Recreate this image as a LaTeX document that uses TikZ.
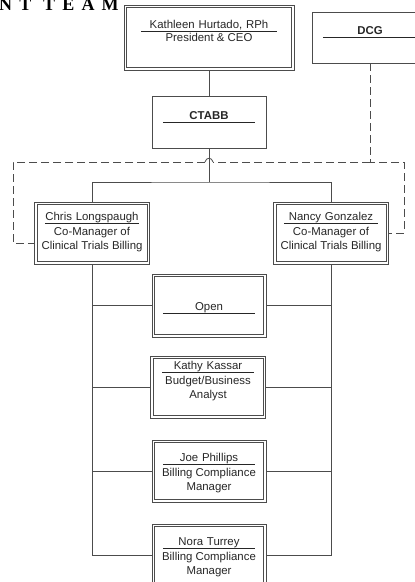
\documentclass[tikz,border=0pt]{standalone}
\usepackage{fontspec}
\setmainfont{Liberation Sans}
\newfontfamily\headfont[LetterSpace=40]{Liberation Serif}
\usetikzlibrary{positioning}
\definecolor{linegray}{gray}{0.3}
\definecolor{textgray}{gray}{0.15}

\tikzset{
  dbox/.style={draw=linegray, line width=.65pt, inner sep=0pt},
  sbox/.style={draw=linegray, line width=.7pt, inner sep=0pt},
  namebox/.style={anchor=south, inner sep=0pt, text depth=2.2pt, align=center,
    font=\fontsize{11.4}{13.5}\selectfont, text=textgray},
  titlebox/.style={inner xsep=0pt, inner ysep=4.5pt, align=center,
    font=\fontsize{11.4}{13.5}\selectfont, text=textgray},
  underline/.style={draw=textgray, line width=.6pt},
  orgline/.style={draw=linegray, line width=.7pt},
  dotline/.style={draw=linegray, line width=.8pt, dash pattern=on 8pt off 4pt}
}

\begin{document}
\begin{tikzpicture}[x=1pt, y=-1pt]
  \useasboundingbox (0,0) rectangle (415,582);
  \node [anchor=base west, inner sep=0pt,
    font=\headfont\bfseries\fontsize{18}{18}\selectfont] (head) at (-1,10.5) {NT TEAM};

  % president
  \node [dbox, minimum width=170pt, minimum height=65pt] (boss) at (209,37.5) {};
  \node [namebox, text width=136pt] (bossname) at (209,31) {Kathleen Hurtado, RPh};
  \draw [underline] (bossname.south west) -- (bossname.south east);
  \node [titlebox, inner ysep=2.5pt, below=0pt of bossname] (bosstitle) {President \& CEO};

  % dcg (runs off the right edge)
  \node [sbox, minimum width=128pt, minimum height=51pt] (dcg) at (376,37.5) {};
  \node [namebox, text width=94pt, font=\fontsize{11.4}{13.5}\selectfont\bfseries] (dcgname) at (370,37) {DCG};
  \draw [underline] (dcgname.south west) -- (dcgname.south east);

  % ctabb
  \node [sbox, minimum width=114pt, minimum height=52pt] (ctabb) at (209,122) {};
  \node [namebox, text width=92pt, font=\fontsize{11.4}{13.5}\selectfont\bfseries] (ctabbname) at (209,122) {CTABB};
  \draw [underline] (ctabbname.south west) -- (ctabbname.south east);

  % co-managers
  \node [dbox, minimum width=115pt, minimum height=62pt] (chris) at (92,233) {};
  \node [namebox, text width=94pt] (chrisname) at (92,223) {Chris Longspaugh};
  \draw [underline] (chrisname.south west) -- (chrisname.south east);
  \node [titlebox, below=0pt of chrisname] (christitle) {Co-Manager of\\Clinical Trials Billing};

  \node [dbox, minimum width=115pt, minimum height=62pt] (nancy) at (331,233) {};
  \node [namebox, text width=94pt] (nancyname) at (331,223) {Nancy Gonzalez};
  \draw [underline] (nancyname.south west) -- (nancyname.south east);
  \node [titlebox, below=0pt of nancyname] (nancytitle) {Co-Manager of\\Clinical Trials Billing};

  % staff
  \node [dbox, minimum width=114pt, minimum height=63pt] (open) at (209,305.5) {};
  \node [namebox, text width=92pt] (openname) at (209,313) {Open};
  \draw [underline] (openname.south west) -- (openname.south east);

  \node [dbox, minimum width=115pt, minimum height=62pt] (kathy) at (208,387) {};
  \node [namebox, text width=91pt] (kathyname) at (208,372) {Kathy Kassar};
  \draw [underline] (kathyname.south west) -- (kathyname.south east);
  \node [titlebox, below=0pt of kathyname] (kathytitle) {Budget/Business\\Analyst};

  \node [dbox, minimum width=114pt, minimum height=62pt] (joe) at (209,471) {};
  \node [namebox, text width=92pt] (joename) at (209,464) {Joe Phillips};
  \draw [underline] (joename.south west) -- (joename.south east);
  \node [titlebox, below=0pt of joename] (joetitle) {Billing Compliance\\Manager};

  \node [dbox, minimum width=114pt, minimum height=62pt] (nora) at (209,555) {};
  \node [namebox, text width=92pt] (noraname) at (209,548) {Nora Turrey};
  \draw [underline] (noraname.south west) -- (noraname.south east);
  \node [titlebox, below=0pt of noraname] (noratitle) {Billing Compliance\\Manager};

  % inner frames of the double boxes
  \foreach \b in {boss,chris,nancy,open,kathy,joe,nora}
    \draw [dbox] ([xshift=2.8pt,yshift=-2.8pt]\b.north west)
      rectangle ([xshift=-2.8pt,yshift=2.8pt]\b.south east);

  % solid lines
  \coordinate (bar) at (209,182);
  \draw [orgline] (boss.south) -- (ctabb.north);
  \draw [orgline] (ctabb.south) -- (bar);
  \draw [orgline] (chris.north) |- (bar) -| (nancy.north);
  \draw [orgline] (chris.south) |- (nora.west);
  \draw [orgline] (nancy.south) |- (nora.east);
  \foreach \n in {open,kathy,joe} {
    \draw [orgline] (chris.south |- \n.west) -- (\n.west);
    \draw [orgline] (\n.east) -- (nancy.south |- \n.east);
  }

  % dotted line, hopping over the solid one
  \coordinate (dj) at (370,162);
  \coordinate (hopr) at (213,162);
  \coordinate (hopl) at (205,162);
  \draw [dotline] (dj |- dcg.south) -- (dj) -- (404,162) |- (nancy.east);
  \draw [dotline] (dj) -- (hopr);
  \draw [linegray, line width=.8pt] (hopr) .. controls (212,157) and (206,157) .. (hopl);
  \draw [dotline] (hopl) -- (13,162) -- (13,243) -- (chris.west |- 0,243);
\end{tikzpicture}
\end{document}
